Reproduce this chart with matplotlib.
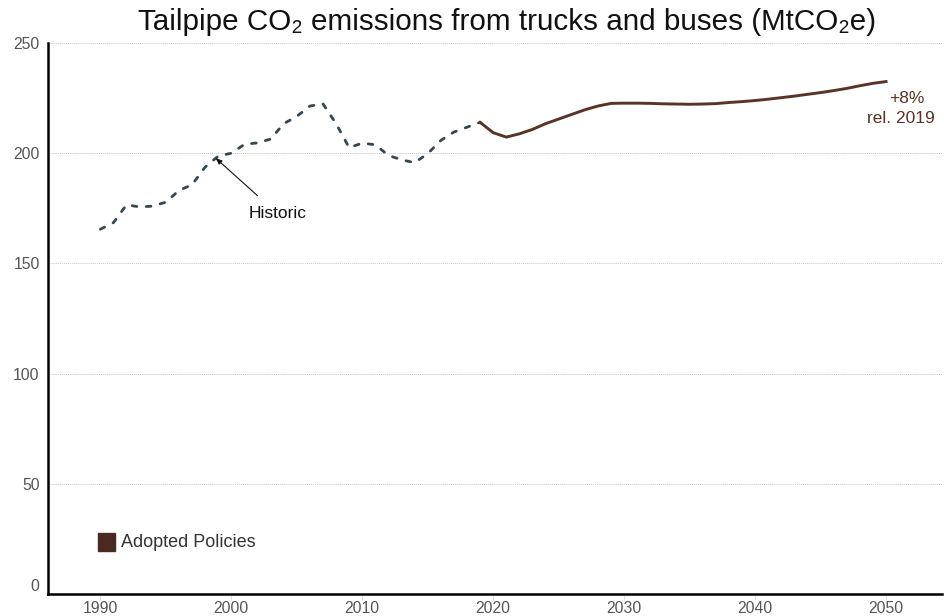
import matplotlib.pyplot as plt
from matplotlib.patches import Rectangle

plt.rcParams['font.family'] = ['Liberation Sans', 'DejaVu Sans']

# historic emissions (MtCO2e)
hist_years = list(range(1990, 2020))
hist_vals = [165.5, 168.5, 176.6, 175.6, 176.0, 177.8, 183.1, 185.7, 193.7, 198.7,
             200.0, 204.0, 204.7, 206.4, 213.4, 216.7, 221.4, 222.4, 213.4, 202.5,
             204.6, 203.8, 199.0, 197.0, 195.7, 199.8, 205.8, 209.6, 211.8, 214.0]

# adopted policies projection
proj_years = list(range(2019, 2051))
proj_vals = [214.0, 209.3, 207.3, 208.8, 210.8, 213.4, 215.5, 217.6, 219.7, 221.4,
             222.6, 222.7, 222.7, 222.6, 222.4, 222.3, 222.2, 222.3, 222.5, 223.0,
             223.4, 223.9, 224.5, 225.2, 225.9, 226.7, 227.5, 228.4, 229.4, 230.6,
             231.7, 232.5]

y_ticks = [0, 50, 100, 150, 200, 250]
x_ticks = [1990, 2000, 2010, 2020, 2030, 2040, 2050]

hist_color = '#37474f'
proj_color = '#5a3327'
legend_color = '#4a2a20'

fig = plt.figure(figsize=(9.45, 6.16), dpi=100)
ax = fig.add_axes([0.0508, 0.0357, 0.9457, 0.8945])

ax.plot(hist_years, hist_vals, color=hist_color, lw=2.0,
        linestyle=(0, (1.7, 3.4)), dash_capstyle='round', zorder=3)
ax.plot(proj_years, proj_vals, color=proj_color, lw=2.1, zorder=4)

ax.set_xlim(1986.0, 2054.25)
ax.set_ylim(0, 250)
ax.set_xticks(x_ticks)
ax.set_yticks(y_ticks)
ax.grid(axis='y', color='#c8c8c8', linestyle=(0, (1, 1)), lw=0.7)
ax.set_axisbelow(True)

for s in ['top', 'right']:
    ax.spines[s].set_visible(False)
ax.spines['left'].set_linewidth(1.8)
ax.spines['bottom'].set_linewidth(1.8)
ax.tick_params(axis='both', colors='#dddddd', labelcolor='#555555', labelsize=11.3,
               length=4, width=0.6)
ax.tick_params(axis='y', length=0, pad=6)
ax.tick_params(axis='x', pad=1)
ax.get_yticklabels()[0].set_verticalalignment('bottom')

ax.set_title('Tailpipe CO\u2082 emissions from trucks and buses (MtCO\u2082e)',
             fontsize=21.3, color='#111111', pad=9, x=0.5136)

ax.annotate('Historic', xy=(1998.8, 197.8), xytext=(2003.5, 172.7),
            fontsize=12.5, color='#111111', ha='center', va='center',
            arrowprops=dict(arrowstyle='-|>,head_length=0.3,head_width=0.12',
                            color='#111111', lw=0.8, shrinkA=8, shrinkB=0))

ax.text(2051.6, 224.8, '+8%', fontsize=12.5, color=proj_color, ha='center', va='center')
ax.text(2051.1, 215.6, 'rel. 2019', fontsize=12.5, color=proj_color, ha='center', va='center')

# legend entry
ax.add_patch(Rectangle((1989.8, 19.5), 1.35, 8.0, color=legend_color, clip_on=False))
ax.text(1991.6, 23.5, 'Adopted Policies', fontsize=13, color='#333333',
        ha='left', va='center')

fig.savefig('out.png', dpi=100)
